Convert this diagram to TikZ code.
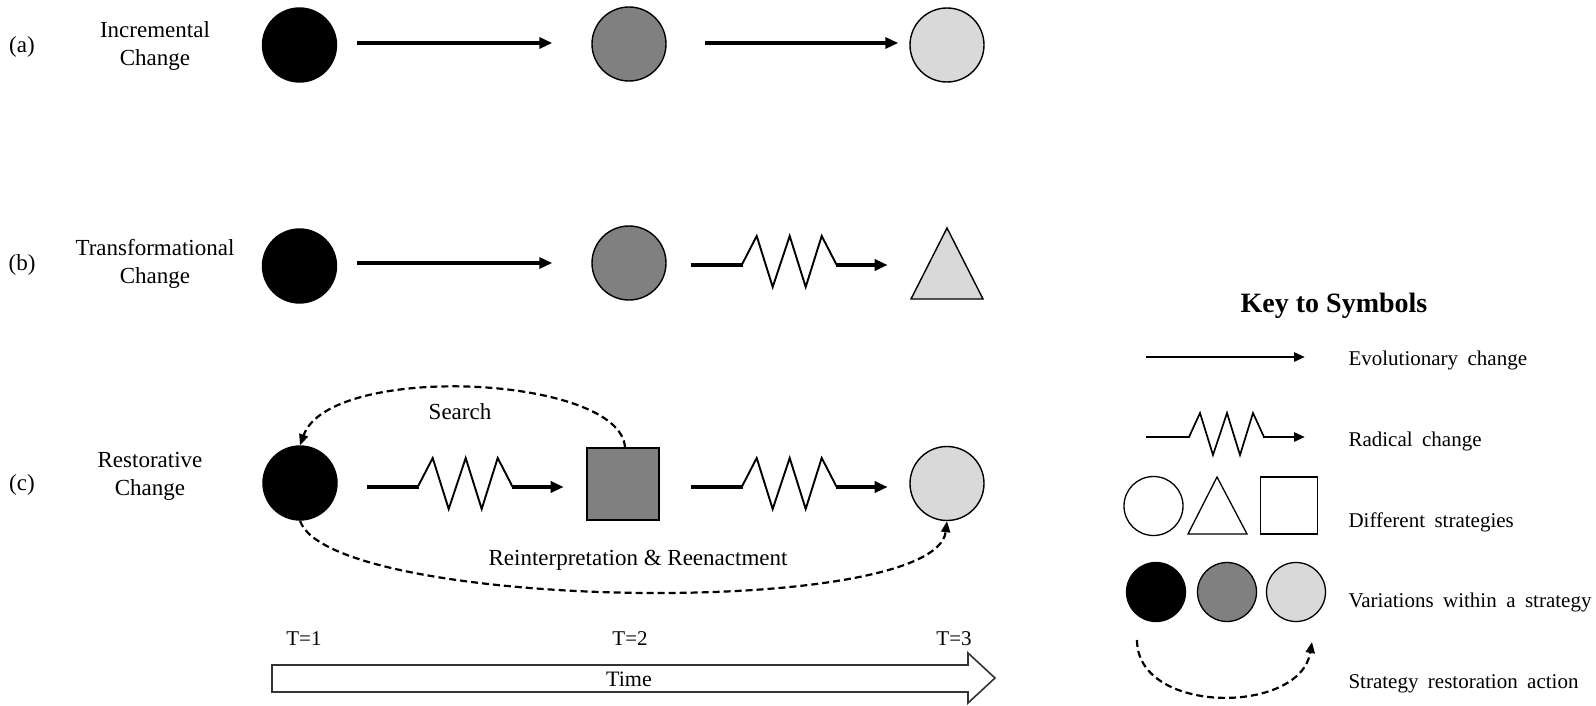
\documentclass[tikz,border=0pt]{standalone}
\usepackage{fontspec}
\setmainfont{Liberation Serif}
\usetikzlibrary{arrows.meta}
\newcommand{\widewords}{\spaceskip=0.45em\relax}
\tikzset{
  dot/.style={circle, draw=black, line width=1.4pt, minimum size=74pt, inner sep=0pt},
  blk/.style={dot, fill=black},
  mid/.style={dot, fill=black!50},
  lite/.style={dot, fill=black!15},
  kdot/.style={circle, draw=black, line width=1.3pt, minimum size=59pt, inner sep=0pt},
  evo/.style={line width=3.2pt, -{Triangle[length=13pt,width=11pt]}},
  kevo/.style={line width=2.6pt, -{Triangle[length=11pt,width=9pt]}},
  dasharc/.style={line width=2.2pt, dash pattern=on 7pt off 4pt, -{Triangle[length=11pt,width=9pt]}},
  lbl/.style={font=\fontsize{23}{28}\selectfont, align=center},
  tlbl/.style={font=\fontsize{21}{25}\selectfont, anchor=base},
  keytxt/.style={font=\fontsize{21}{25}\selectfont, execute at begin node=\widewords, anchor=base west},
  zz/.pic={
    \draw[line width=3.2pt] (0,0) -- (52,0);
    \draw[line width=1.9pt, line join=miter] (51,0) -- (66,-29) -- (82,22) -- (99,-29) -- (115,22) -- (131,-29) -- (146,0);
    \draw[evo] (145,0) -- (197,0);
  },
  zzkey/.pic={
    \draw[line width=2.6pt] (0,0) -- (44,0);
    \draw[line width=1.7pt, line join=miter] (43,0) -- (54,-24) -- (67,18) -- (81,-24) -- (94,18) -- (107,-24) -- (118,0);
    \draw[kevo] (117,0) -- (159,0);
  }
}
\begin{document}
\begin{tikzpicture}[x=1pt,y=-1pt]
\useasboundingbox (0,0) rectangle (1596,706);

% row labels
\node[lbl] (la) at (22,47) {(a)};
\node[lbl] (lb) at (22,265) {(b)};
\node[lbl] (lc) at (22,485) {(c)};
\node[lbl] (na) at (155,46) {Incremental\\Change};
\node[lbl] (nb) at (155,264) {Transformational\\Change};
\node[lbl] (nc) at (150,476) {Restorative\\Change};

% row (a)
\node[blk] (a1) at (299.5,45) {};
\node[mid] (a2) at (629,44) {};
\node[lite] (a3) at (947,45) {};
\draw[evo] ([xshift=20pt,yshift=2pt]a1.east) -- ([xshift=-39pt,yshift=1pt]a2.west);
\draw[evo] ([xshift=38pt,yshift=1pt]a2.east) -- ([xshift=-11pt,yshift=2pt]a3.west);

% row (b)
\node[blk] (b1) at (299.5,266) {};
\node[mid] (b2) at (629,263) {};
\coordinate (b3) at (947,266);
\draw[line width=1.4pt, fill=black!15] (911,299) -- (947,228) -- (983,299) -- cycle;
\draw[evo] ([xshift=20pt,yshift=3pt]b1.east) -- ([xshift=-39pt]b2.west);
\pic at ([xshift=24pt,yshift=-2pt]b2.east) {zz};

% row (c)
\node[blk] (c1) at (300,483) {};
\node[draw=black, line width=1.4pt, fill=black!50, minimum size=72pt, inner sep=0pt] (sq) at (623,484) {};
\node[lite] (c3) at (947,483.5) {};
\pic at ([xshift=29pt,yshift=-4pt]c1.east) {zz};
\pic at ([xshift=31pt,yshift=-3pt]sq.east) {zz};

\draw[dasharc] ([xshift=2pt]sq.north) .. controls (620,375) and (330,362) .. (c1.north);
\node[lbl, anchor=base] (search) at (460,419) {Search};
\draw[dasharc] (c1.south) .. controls (330,610) and (935,620) .. (c3.south);
\node[lbl, anchor=base] (reen) at (638,565) {Reinterpretation \& Reenactment};

% time axis
\node[tlbl] (t1) at (304,645) {T=1};
\node[tlbl] (t2) at (630,645) {T=2};
\node[tlbl] (t3) at (954,645) {T=3};
\draw[line width=1.6pt, draw=black!80, fill=white] (272,665) -- (968,665) -- (968,653) -- (995,678) -- (968,703) -- (968,692) -- (272,692) -- cycle;
\node[font=\fontsize{22}{26}\selectfont, anchor=base] (time) at (629,686) {Time};

% key
\node[font=\fontsize{28}{32}\selectfont\bfseries, anchor=base] (key) at (1334,312) {Key to Symbols};
\coordinate (ke1) at (1146,357);
\coordinate (ke2) at (1305,357);
\draw[kevo] (ke1) -- (ke2);
\node[keytxt] (kt1) at (1345,365) {Evolutionary change};
\pic at (1146,437) {zzkey};
\node[keytxt] (kt2) at (1345,446) {Radical change};
\node[kdot] (ko) at (1153.5,506) {};
\draw[line width=1.3pt] (1188,534) -- (1217,477) -- (1247,534) -- cycle;
\node[draw=black, line width=1.3pt, minimum size=57pt, inner sep=0pt] (ks) at (1289,505.5) {};
\node[keytxt] (kt3) at (1345,527) {Different strategies};
\node[kdot, fill=black] (kv1) at (1156,592) {};
\node[kdot, fill=black!50] (kv2) at (1227,592) {};
\node[kdot, fill=black!15] (kv3) at (1296,592) {};
\node[keytxt] (kt4) at (1345,607) {Variations within a strategy};
\coordinate (kr1) at (1137,640);
\coordinate (kr2) at (1312,642);
\draw[dasharc] (kr1) .. controls (1137,715) and (1300,715) .. (kr2);
\node[keytxt] (kt5) at (1345,688) {Strategy restoration action};
\end{tikzpicture}
\end{document}
